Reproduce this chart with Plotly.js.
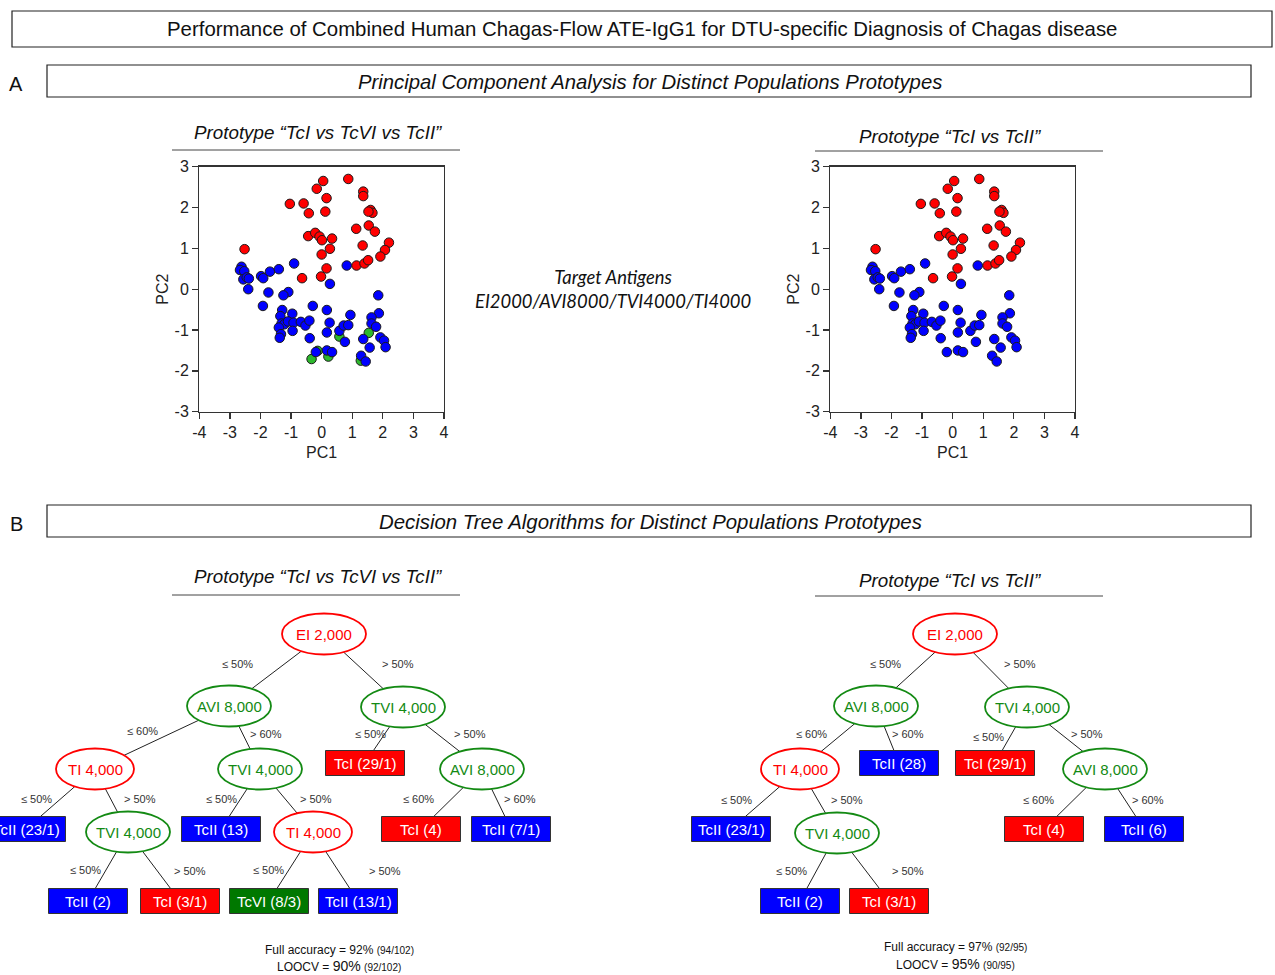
<!DOCTYPE html>
<html><head><meta charset="utf-8">
<script src="https://cdn.plot.ly/plotly-3.0.1.min.js"></script>
<style>html,body{margin:0;padding:0;background:#fff}#chart{width:1275px;height:975px}</style>
</head><body><div id="chart"></div>
<script>
// ---------------- DATA ----------------
// PCA scores (PC1, PC2)
const tcI_pc1 = [0.87,0.05,-0.16,0.16,-1.04,-0.59,-0.42,0.12,1.36,1.36,1.60,1.66,1.53,1.13,1.54,1.74,-0.44,-0.21,-0.07,0.01,0.34,0.27,0.00,1.34,2.20,2.07,1.92,1.14,1.40,1.52,0.16,-0.02,-0.64,-2.52];
const tcI_pc2 = [2.70,2.65,2.46,2.23,2.09,2.10,1.86,1.90,2.39,2.28,1.94,1.87,1.90,1.48,1.56,1.41,1.30,1.38,1.29,1.20,1.24,0.99,0.85,1.07,1.14,0.96,0.80,0.58,0.63,0.71,0.51,0.31,0.27,0.98];
const tcII_pc1 = [-2.62,-2.67,-2.53,-2.56,-2.45,-2.38,-2.40,-1.98,-1.91,-1.69,-1.40,-0.90,0.82,0.27,-1.74,-1.09,-1.25,-1.92,-1.29,-1.35,-0.96,-0.29,0.17,1.85,1.87,0.94,-1.31,-1.22,-1.10,-0.92,-1.40,-1.33,-1.37,-0.95,-0.68,-0.53,-0.40,-0.39,0.26,0.17,0.58,0.72,0.87,0.76,1.63,1.63,1.78,1.36,1.92,2.04,2.09,1.57,1.29,1.44,-0.19,0.17,0.34];
const tcII_pc2 = [0.55,0.47,0.44,0.24,0.29,0.26,0.00,0.32,0.27,0.43,0.49,0.63,0.58,0.13,-0.08,-0.07,-0.15,-0.41,-0.51,-0.66,-0.60,-0.41,-0.51,-0.15,-0.59,-0.63,-0.84,-0.86,-0.79,-0.82,-0.94,-1.10,-1.19,-1.02,-0.80,-0.89,-0.77,-1.20,-0.82,-1.06,-1.02,-0.89,-0.88,-1.29,-0.69,-0.84,-0.92,-1.22,-1.18,-1.26,-1.42,-1.43,-1.63,-1.77,-1.54,-1.50,-1.54];
const tcVI_pc1 = [0.58,1.54,-0.13,-0.33,0.22,1.28];
const tcVI_pc2 = [-1.16,-1.07,-1.51,-1.71,-1.65,-1.75];
const xTicks = [-4,-3,-2,-1,0,1,2,3,4];
const xTickLabels = ['-4','-3','-2','-1','0','1','2','3','4'];
const yTicks = [-3,-2,-1,0,1,2,3];
const yTickLabels = ['-3','-2','-1','0','1','2','3'];

// Decision trees: labels, parents, split labels
const treeA_labels  = ['EI 2,000','AVI 8,000','TVI 4,000','TI 4,000','TVI 4,000','TcI (29/1)','AVI 8,000','TcII (23/1)','TVI 4,000','TcII (13)','TI 4,000','TcI (4)','TcII (7/1)','TcII (2)','TcI (3/1)','TcVI (8/3)','TcII (13/1)'];
const treeA_parents = [-1,0,0,1,1,2,2,3,3,4,4,6,6,8,8,10,10];
const treeA_splits  = ['','≤ 50%','> 50%','≤ 60%','> 60%','≤ 50%','> 50%','≤ 50%','> 50%','≤ 50%','> 50%','≤ 60%','> 60%','≤ 50%','> 50%','≤ 50%','> 50%'];
const treeB_labels  = ['EI 2,000','AVI 8,000','TVI 4,000','TI 4,000','TcII (28)','TcI (29/1)','AVI 8,000','TcII (23/1)','TVI 4,000','TcI (4)','TcII (6)','TcII (2)','TcI (3/1)'];
const treeB_parents = [-1,0,0,1,1,2,2,3,3,6,6,8,8];
const treeB_splits  = ['','≤ 50%','> 50%','≤ 60%','> 60%','≤ 50%','> 50%','≤ 50%','> 50%','≤ 60%','> 60%','≤ 50%','> 50%'];
const accA = {full:'92%', fullN:'(94/102)', loocv:'90%', loocvN:'(92/102)'};
const accB = {full:'97%', fullN:'(92/95)', loocv:'95%', loocvN:'(90/95)'};

// ---------------- LAYOUT (pixel positions) ----------------
const W = 1275, H = 975;
const px = x => x / W, py = y => 1 - y / H;
const treeA_pos = [[324,634],[229,706],[403,707],[95,769],[260,769],[365,763],[482,769],[26,829],[128,832],[221,829],[313,832],[421,829],[511,829],[88,901],[180,901],[269,901],[358,901]];
const treeA_lab = [null,[237,664],[398,664],[142,731],[266,734],[370,734],[470,734],[36,799],[140,799],[221,799],[316,799],[418,799],[520,799],[86,870],[190,871],[268,870],[385,871]];
const treeB_pos = [[955,634],[876,706],[1027,707],[800,769],[899,763],[995,763],[1105,769],[731,829],[837,833],[1044,829],[1144,829],[800,901],[889,901]];
const treeB_lab = [null,[885,664],[1020,664],[811,734],[908,734],[989,737],[1087,734],[736,800],[847,800],[1038,800],[1148,800],[791,871],[908,871]];

const SANS = 'Liberation Sans, Arial, sans-serif';
const RED = '#ff0000', BLUE = '#0000ff', GREEN = '#2db82d', DGREEN = '#138a13', LEAFGREEN = '#007800';

const shapes = [], annotations = [];
function rectPx(x0,y0,x1,y1,line,fill){
  shapes.push({type:'rect',xref:'paper',yref:'paper',x0:px(x0),x1:px(x1),y0:py(y1),y1:py(y0),
    line:line,fillcolor:fill||'rgba(0,0,0,0)',layer:'above'});
}
function linePx(x0,y0,x1,y1,color,width){
  shapes.push({type:'line',xref:'paper',yref:'paper',x0:px(x0),x1:px(x1),y0:py(y0),y1:py(y1),
    line:{color:color,width:width},layer:'above'});
}
function text(x,y,t,size,color,extra){
  annotations.push(Object.assign({xref:'paper',yref:'paper',x:px(x),y:py(y),text:t,showarrow:false,
    xanchor:'center',yanchor:'middle',font:{family:SANS,size:size,color:color}},extra||{}));
}

// Header boxes
rectPx(12,11,1272,47,{color:'#222',width:1.2});
text(642,29,'Performance of Combined Human Chagas-Flow ATE-IgG1 for DTU-specific Diagnosis of Chagas disease',20.4,'#111');
text(16,84,'A',20,'#111');
rectPx(47,65,1251,97,{color:'#222',width:1.2});
text(650,82,'<i>Principal Component Analysis for Distinct Populations Prototypes</i>',20.3,'#111');
text(16,524,'B',20,'#111');
rectPx(47,505,1251,537,{color:'#222',width:1.2});
text(650,522,'<i>Decision Tree Algorithms for Distinct Populations Prototypes</i>',20.4,'#111');

// Prototype titles
const protoL = 'Prototype “TcI vs TcVI vs TcII”', protoR = 'Prototype “TcI vs TcII”';
[[132,150],[576,595]].forEach(([ty,ly])=>{
  text(318,ty,'<i>'+protoL+'</i>',18.8,'#111');
  linePx(172,ly,460,ly,'#444',1);
});
[[136,151],[580,596]].forEach(([ty,ly])=>{
  text(950,ty,'<i>'+protoR+'</i>',18.8,'#111');
  linePx(815,ly,1103,ly,'#444',1);
});

// Target antigens text
annotations.push({xref:'paper',yref:'paper',x:px(613),y:py(289),showarrow:false,xanchor:'center',yanchor:'middle',
  text:'<i>Target Antigens</i><br><i>EI2000/AVI8000/TVI4000/TI4000</i>',
  font:{family:'Lato, Open Sans, sans-serif',size:18.4,color:'#111'}});

// Trees
function drawTree(labels,parents,splits,pos,labPos){
  const RX_E=42, RY_E=20.5, HW=39.5, HH=12.5;
  const isLeaf = l => l.startsWith('Tc');
  const geom = labels.map((l,i)=>{
    if(isLeaf(l)) return {leaf:true,w:HW,h:HH};
    return {leaf:false,rx:(l.startsWith('TI')?39:RX_E),ry:RY_E};
  });
  function clip(i,dx,dy){
    const g=geom[i];
    let t;
    if(g.leaf){ t=Math.min(dx?g.w/Math.abs(dx):Infinity, dy?g.h/Math.abs(dy):Infinity); }
    else { t=1/Math.sqrt((dx/g.rx)**2+(dy/g.ry)**2); }
    return [pos[i][0]+dx*t,pos[i][1]+dy*t];
  }
  parents.forEach((p,i)=>{
    if(p<0) return;
    const dx=pos[i][0]-pos[p][0], dy=pos[i][1]-pos[p][1];
    const a=clip(p,dx,dy), b=clip(i,-dx,-dy);
    linePx(a[0],a[1],b[0],b[1],'#222',1);
    text(labPos[i][0],labPos[i][1],splits[i],11,'#333');
  });
  labels.forEach((l,i)=>{
    const [cx,cy]=pos[i], g=geom[i];
    if(g.leaf){
      const fill = l.startsWith('TcII')?BLUE:(l.startsWith('TcVI')?LEAFGREEN:RED);
      rectPx(cx-g.w,cy-g.h,cx+g.w,cy+g.h,{color:'#333',width:1},fill);
      text(cx,cy,l,15,'#fff');
    } else {
      const col = (l.startsWith('EI')||l.startsWith('TI'))?RED:DGREEN;
      shapes.push({type:'circle',xref:'paper',yref:'paper',x0:px(cx-g.rx),x1:px(cx+g.rx),y0:py(cy+g.ry),y1:py(cy-g.ry),
        line:{color:col,width:1.8},fillcolor:'#fff',layer:'above'});
      text(cx,cy,l,15,col);
    }
  });
}
drawTree(treeA_labels,treeA_parents,treeA_splits,treeA_pos,treeA_lab);
drawTree(treeB_labels,treeB_parents,treeB_splits,treeB_pos,treeB_lab);

function accText(cx,y1,y2,a){
  text(cx,y1,'Full accuracy = '+a.full+' <span style="font-size:10px">'+a.fullN+'</span>',12,'#111');
  text(cx,y2,'LOOCV = <span style="font-size:14px">'+a.loocv+'</span> <span style="font-size:10px">'+a.loocvN+'</span>',12,'#111');
}
accText(339,950,966,accA);
accText(955,947,964,accB);

// ---------------- PLOT ----------------
const mk = c => ({color:c,size:9.5,line:{color:'#1a1a1a',width:1}});
const traces = [
  {x:tcVI_pc1,y:tcVI_pc2,type:'scatter',mode:'markers',name:'TcVI',marker:mk(GREEN),xaxis:'x',yaxis:'y'},
  {x:tcI_pc1,y:tcI_pc2,type:'scatter',mode:'markers',name:'TcI',marker:mk(RED),xaxis:'x',yaxis:'y'},
  {x:tcII_pc1,y:tcII_pc2,type:'scatter',mode:'markers',name:'TcII',marker:mk(BLUE),xaxis:'x',yaxis:'y'},
  {x:tcI_pc1,y:tcI_pc2,type:'scatter',mode:'markers',name:'TcI',marker:mk(RED),xaxis:'x2',yaxis:'y2'},
  {x:tcII_pc1,y:tcII_pc2,type:'scatter',mode:'markers',name:'TcII',marker:mk(BLUE),xaxis:'x2',yaxis:'y2'}
];
const axBase = {
  showgrid:false, zeroline:false, showline:true, mirror:true,
  linecolor:'#333', linewidth:1.3, ticks:'outside', ticklen:6, tickcolor:'#333', tickwidth:1.3,
  tickfont:{family:SANS,size:16,color:'#222'}, fixedrange:true, tickmode:'array'
};
function xAx(d){return Object.assign({},axBase,{domain:d,range:[-4,4],tickvals:xTicks,ticktext:xTickLabels,
  title:{text:'PC1',font:{family:SANS,size:16,color:'#222'},standoff:6}});}
function yAx(d,anchor){return Object.assign({},axBase,{domain:d,range:[-3,3],tickvals:yTicks,ticktext:yTickLabels,anchor:anchor,
  title:{text:'PC2',font:{family:SANS,size:16,color:'#222'},standoff:2}});}
const yDom = [py(411.7), py(166.7)];
const layout = {
  width:W, height:H, margin:{l:0,r:0,t:0,b:0}, paper_bgcolor:'#fff', plot_bgcolor:'#fff',
  showlegend:false,
  xaxis: Object.assign(xAx([px(199.3),px(444)]),{anchor:'y'}),
  yaxis: yAx(yDom,'x'),
  xaxis2: Object.assign(xAx([px(830.3),px(1075)]),{anchor:'y2'}),
  yaxis2: yAx(yDom,'x2'),
  shapes: shapes, annotations: annotations
};
Plotly.newPlot('chart', traces, layout, {displayModeBar:false, staticPlot:true});
</script>
</body></html>
